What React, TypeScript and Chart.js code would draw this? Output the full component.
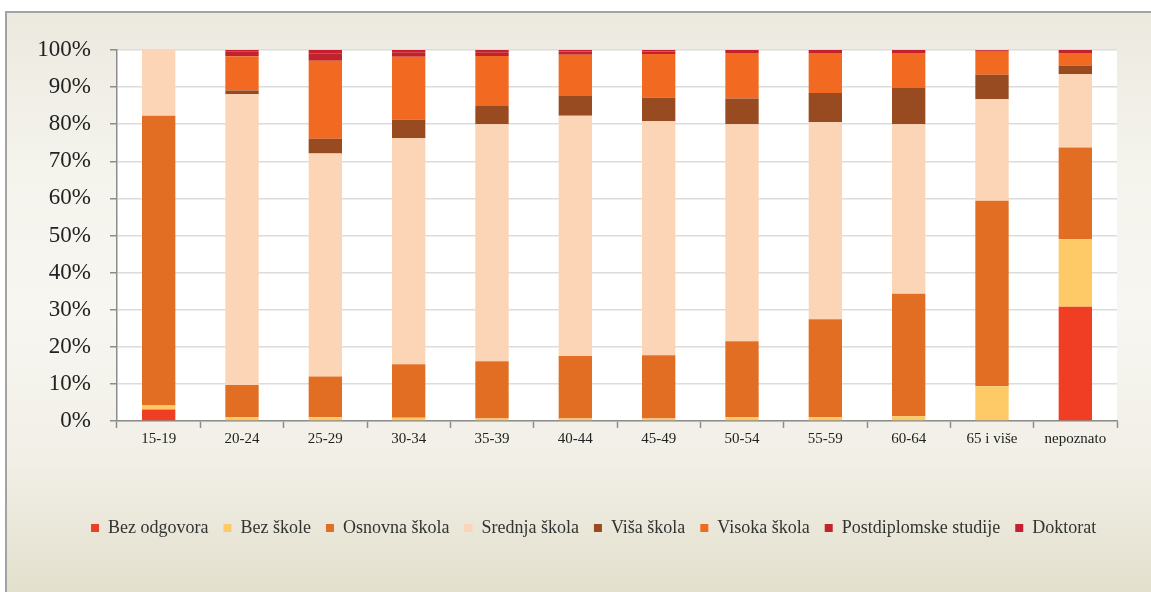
import React, { useEffect, useRef } from "react";
import { Chart, registerables } from "chart.js";

Chart.register(...registerables);

const categories = ["15-19", "20-24", "25-29", "30-34", "35-39", "40-44", "45-49", "50-54", "55-59", "60-64", "65 i više", "nepoznato"];
const bezOdgovora = [3.1, 0, 0, 0, 0, 0, 0, 0, 0, 0, 0.2, 30.8];
const bezSkole = [1.1, 1.1, 1.0, 0.9, 0.7, 0.7, 0.7, 1.1, 1.1, 1.3, 9.2, 18.2];
const osnovna = [78.1, 8.6, 11.0, 14.4, 15.4, 16.8, 17.0, 20.4, 26.3, 33.0, 50.0, 24.7];
const srednja = [17.7, 78.4, 60.1, 61.0, 63.9, 64.8, 63.1, 58.5, 53.1, 45.7, 27.4, 19.8];
const visa = [0, 1.0, 4.0, 4.9, 4.9, 5.3, 6.3, 6.9, 7.9, 9.9, 6.5, 2.3];
const visoka = [0, 9.2, 21.0, 17.0, 13.5, 11.1, 11.8, 12.3, 10.8, 9.3, 6.2, 3.4];
const postdiplomske = [0, 1.2, 2.0, 1.2, 1.0, 0.9, 0.7, 0.5, 0.5, 0.5, 0.3, 0.5];
const doktorat = [0, 0.5, 0.9, 0.6, 0.6, 0.4, 0.4, 0.3, 0.3, 0.3, 0.2, 0.3];

const seriesNames = ["Bez odgovora", "Bez škole", "Osnovna škola", "Srednja škola", "Viša škola", "Visoka škola", "Postdiplomske studije", "Doktorat"];
const seriesValues = [bezOdgovora, bezSkole, osnovna, srednja, visa, visoka, postdiplomske, doktorat];
const seriesColors = ["#EF3E23", "#FECA68", "#E26E24", "#FBD5B5", "#984A20", "#F26922", "#C0232B", "#C81E32"];
const yTicks = [0, 10, 20, 30, 40, 50, 60, 70, 80, 90, 100];

const FONT = "'Liberation Serif', 'Times New Roman', serif";

const whiteArea = {
  id: "whiteArea",
  beforeDraw(chart: any) {
    const { ctx, chartArea } = chart;
    ctx.save();
    ctx.fillStyle = "#FFFFFF";
    ctx.fillRect(chartArea.left, chartArea.top, chartArea.right - chartArea.left, chartArea.bottom - chartArea.top);
    ctx.restore();
  },
};

const legendShift = {
  id: "legendShift",
  afterLayout(chart: any) {
    if (chart.legend) {
      chart.legend.left = 76;
    }
  },
};

export default function App() {
  const ref = useRef<HTMLCanvasElement | null>(null);
  useEffect(() => {
    if (!ref.current) return;
    const chart = new Chart(ref.current, {
      type: "bar",
      data: {
        labels: categories,
        datasets: seriesNames.map((name, i) => ({
          label: name,
          data: seriesValues[i],
          backgroundColor: seriesColors[i],
          borderWidth: 0,
          categoryPercentage: 1,
          barPercentage: 0.4,
        })),
      },
      options: {
        responsive: false,
        animation: false,
        layout: { padding: { top: 50, left: 0, right: 34, bottom: 45 } },
        plugins: {
          tooltip: { enabled: false },
          legend: {
            position: "bottom",
            align: "start",
            labels: {
              boxWidth: 8,
              boxHeight: 8,
              padding: 15,
              color: "#333333",
              font: { family: FONT, size: 18 },
            },
          },
        },
        scales: {
          x: {
            stacked: true,
            afterFit(scale: any) {
              scale.height = 83;
            },
            grid: {
              display: true,
              drawOnChartArea: false,
              offset: true,
              tickLength: 7,
              tickColor: "#8C8C8C",
              tickWidth: 1.5,
            },
            border: { color: "#8C8C8C", width: 1.5 },
            ticks: {
              color: "#222222",
              padding: 2,
              maxRotation: 0,
              autoSkip: false,
              font: { family: FONT, size: 15 },
            },
          },
          y: {
            stacked: true,
            min: 0,
            max: 100,
            afterFit(scale: any) {
              scale.width = 117;
            },
            afterBuildTicks(scale: any) {
              scale.ticks = yTicks.map((v) => ({ value: v }));
            },
            grid: {
              color: "#DCDCDC",
              lineWidth: 1.5,
              tickLength: 7,
              tickColor: "#8C8C8C",
              tickWidth: 1.5,
            },
            border: { color: "#8C8C8C", width: 1.5 },
            ticks: {
              color: "#222222",
              padding: 19,
              font: { family: FONT, size: 23 },
              callback: (v: any) => v + "%",
            },
          },
        },
      },
      plugins: [whiteArea, legendShift],
    });
    return () => chart.destroy();
  }, []);

  return (
    <div style={{ position: "fixed", left: 0, top: 0, width: 1151, height: 592, overflow: "hidden" }}>
      <div
        style={{
          position: "absolute",
          left: 5,
          top: 11,
          width: 1200,
          height: 700,
          boxSizing: "border-box",
          border: "2px solid #A3A3A3",
          background: "linear-gradient(to bottom, #ECE9DF 0px, #F4F3EC 150px, #F7F6F1 300px, #F1EFE6 450px, #E2DFCC 581px)",
        }}
      />
      <canvas ref={ref} width={1151} height={592} style={{ position: "absolute", left: 0, top: 0 }} />
    </div>
  );
}
